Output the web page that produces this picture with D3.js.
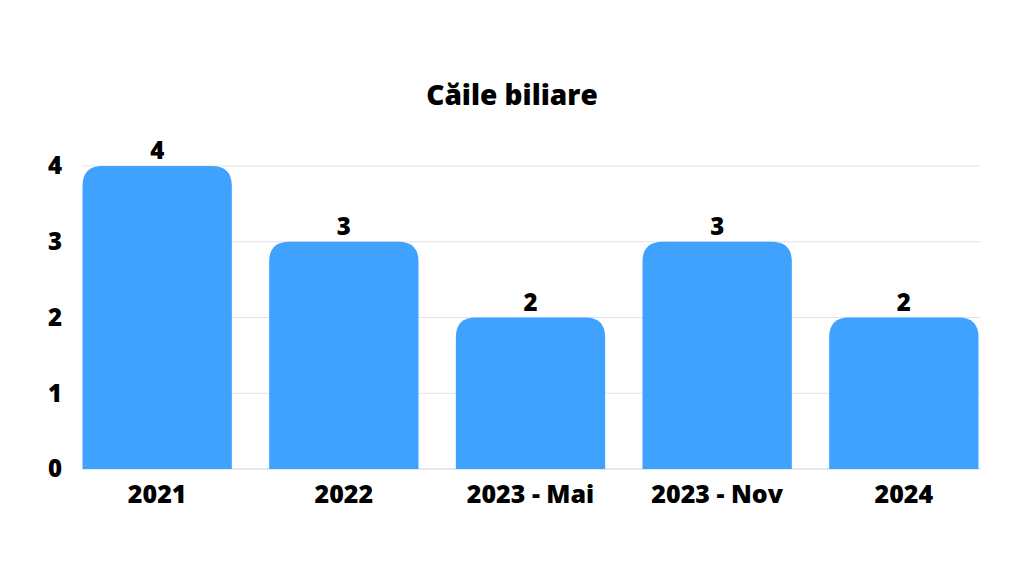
<!DOCTYPE html>
<html>
<head>
<meta charset="utf-8">
<script src="https://cdn.jsdelivr.net/npm/d3@7"></script>
<style>
  body { margin: 0; background: #fff; }
  text { font-family: "Open Sans", Lato, sans-serif; font-weight: 800; fill: #000; }
</style>
</head>
<body>
<svg id="chart"></svg>
<script>
const categories = ["2021", "2022", "2023 - Mai", "2023 - Nov", "2024"];
const values = [4, 3, 2, 3, 2];
const yTicks = [0, 1, 2, 3, 4];

const width = 1024, height = 576;
const margin = {top: 166, right: 45.5, bottom: 107, left: 82.5};

const svg = d3.select("#chart")
    .attr("width", width)
    .attr("height", height);

svg.append("text")
    .attr("x", width / 2)
    .attr("y", 105)
    .attr("text-anchor", "middle")
    .attr("font-size", "28px")
    .text("Căile biliare");

const x = d3.scaleBand()
    .domain(categories)
    .range([margin.left, width - margin.right])
    .paddingInner(0.2)
    .paddingOuter(0);

const y = d3.scaleLinear()
    .domain([0, 4])
    .range([height - margin.bottom, margin.top]);

// gridlines
svg.append("g")
    .selectAll("line")
    .data(yTicks)
    .join("line")
    .attr("x1", margin.left)
    .attr("x2", width - margin.right + 2)
    .attr("y1", d => y(d))
    .attr("y2", d => y(d))
    .attr("stroke", d => d === 0 ? "#cfcfcf" : "#e3e3e3")
    .attr("stroke-width", 1);

// y tick labels
svg.append("g")
    .selectAll("text")
    .data(yTicks)
    .join("text")
    .attr("x", 55)
    .attr("y", d => y(d))
    .attr("dy", "0.35em")
    .attr("text-anchor", "middle")
    .attr("font-size", "24px")
    .text(d => d);

// bars with rounded tops
const r = 20;
function barPath(d, i) {
  const x0 = x(categories[i]), w = x.bandwidth();
  const yt = y(d), yb = y(0);
  return `M${x0},${yb} V${yt + r} Q${x0},${yt} ${x0 + r},${yt} H${x0 + w - r} Q${x0 + w},${yt} ${x0 + w},${yt + r} V${yb} Z`;
}

svg.append("g")
    .selectAll("path")
    .data(values)
    .join("path")
    .attr("d", barPath)
    .attr("fill", "#3fa2ff");

// value labels
svg.append("g")
    .selectAll("text")
    .data(values)
    .join("text")
    .attr("x", (d, i) => x(categories[i]) + x.bandwidth() / 2)
    .attr("y", d => y(d) - 7)
    .attr("text-anchor", "middle")
    .attr("font-size", "24px")
    .text(d => d);

// x labels
svg.append("g")
    .selectAll("text")
    .data(categories)
    .join("text")
    .attr("x", d => x(d) + x.bandwidth() / 2)
    .attr("y", 503)
    .attr("text-anchor", "middle")
    .attr("font-size", "25px")
    .text(d => d);
</script>
</body>
</html>
